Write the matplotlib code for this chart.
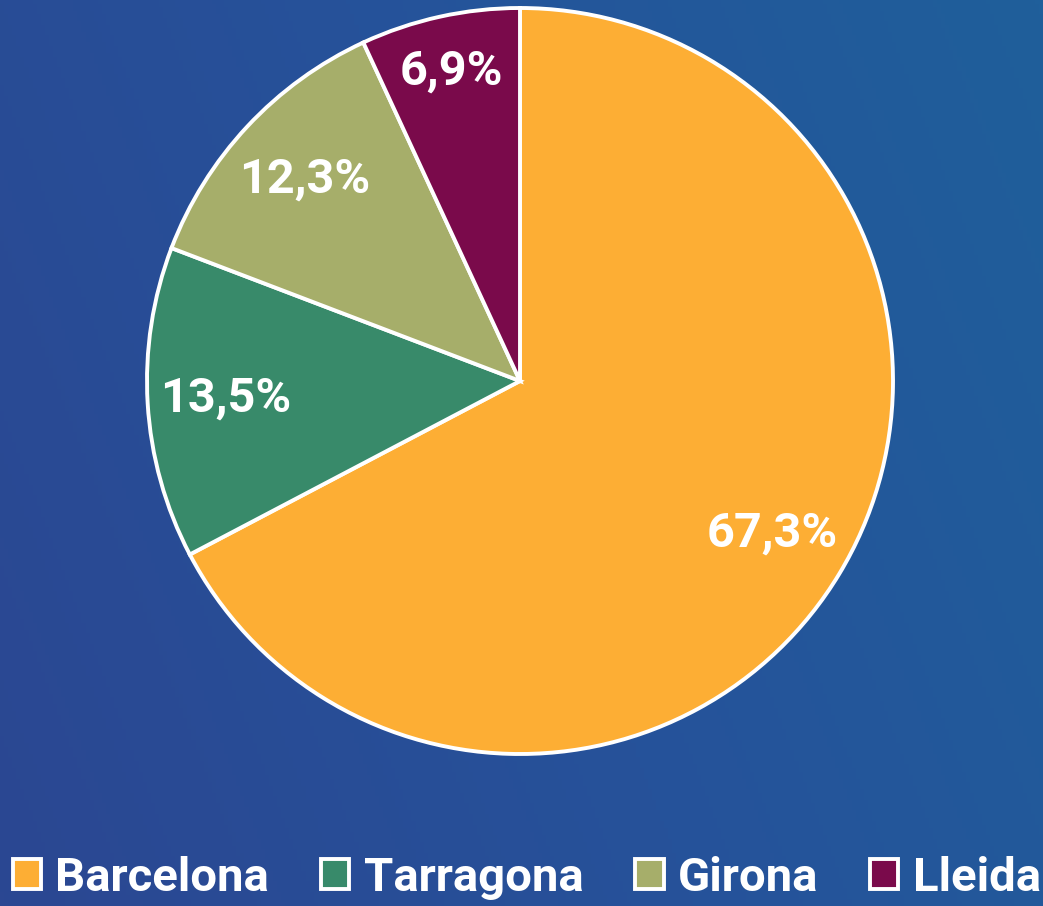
#!/usr/bin/env python3
"""
Pie chart: share by province (Barcelona, Tarragona, Girona, Lleida).
"""

import numpy as np
import matplotlib
matplotlib.use("Agg")
import matplotlib.pyplot as plt
from matplotlib.colors import LinearSegmentedColormap

provinces = ["Barcelona", "Tarragona", "Girona", "Lleida"]
shares = [67.3, 13.5, 12.3, 6.9]
colors = ["#fdae34", "#388a6a", "#a6ae6a", "#7a0a4b"]

W, H = 1043, 906


def main():
    plt.rcParams['font.family'] = ['Roboto', 'DejaVu Sans']

    fig = plt.figure(figsize=(W / 100, H / 100), dpi=100)

    # Background: blue gradient
    bg = fig.add_axes([0, 0, 1, 1], zorder=0)
    cmap = LinearSegmentedColormap.from_list("bg", ["#2b4792", "#26529a", "#1f5f9b"])
    gx = np.linspace(0, 1, 256)
    gy = np.linspace(0, 1, 256)
    grad = 0.75 * gx[None, :] + 0.25 * gy[:, None]
    bg.imshow(grad, cmap=cmap, aspect='auto', extent=[0, 1, 0, 1], origin='lower')
    bg.axis('off')

    # Pie
    cx, cy, r = 520, 381, 373
    ax = fig.add_axes([(cx - r) / W, (H - cy - r) / H, 2 * r / W, 2 * r / H], zorder=1)
    ax.set_facecolor('none')
    wedges, texts, autotexts = ax.pie(
        shares, colors=colors, startangle=90, counterclock=False,
        autopct=lambda p: f'{p:.1f}'.replace('.', ',') + '%',
        pctdistance=0.79,
        wedgeprops=dict(edgecolor='white', linewidth=2.8),
        textprops=dict(color='white', fontsize=35, fontweight='bold'),
    )
    # Lleida label sits a bit further out
    x, y = autotexts[3].get_position()
    autotexts[3].set_position((x * 0.85 / 0.79, y * 0.85 / 0.79))
    ax.set_xlim(-1, 1)
    ax.set_ylim(-1, 1)
    ax.set_aspect('equal')

    leg = fig.legend(
        wedges, provinces, loc='center', bbox_to_anchor=(0.505, 0.031),
        ncol=4, frameon=False, borderpad=0, handlelength=0.6, handleheight=0.6,
        handletextpad=0.3, columnspacing=1.1,
        prop=dict(family=['Roboto', 'DejaVu Sans'], weight='bold', size=34),
    )
    for t in leg.get_texts():
        t.set_color('white')

    fig.savefig("out.png", dpi=100)


if __name__ == "__main__":
    main()
